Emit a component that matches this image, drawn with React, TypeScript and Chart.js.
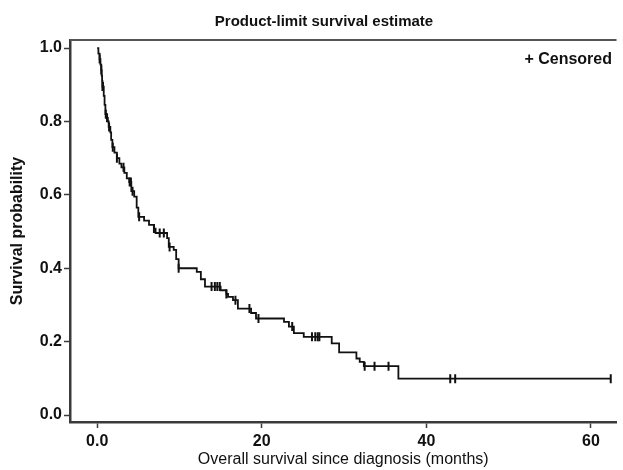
import React, { useEffect, useRef } from "react";
import { Chart, registerables } from "chart.js";

Chart.register(...registerables);

// Kaplan-Meier step function: time (months) and survival after the drop
const eventTimes = [
  0, 0.15, 0.3, 0.4, 0.5, 0.55, 0.6, 0.65, 0.8, 0.9, 1.0, 1.1, 1.3, 1.4, 1.6, 1.7,
  1.85, 2.1, 2.4, 2.7, 2.95, 3.3, 3.6, 3.9, 4.15, 4.5, 4.8, 5.0, 5.7, 6.3, 6.9, 7.1,
  8.5, 8.7, 9.3, 9.6, 9.9, 12.1, 12.6, 13.1, 15.0, 15.7, 15.9, 16.5, 17.1, 18.7,
  19.3, 22.7, 23.3, 23.9, 25.1, 28.5, 29.4, 31.5, 31.9, 32.4, 36.6,
];
const survival = [
  1.0, 0.985, 0.97, 0.955, 0.94, 0.925, 0.91, 0.895, 0.87, 0.845, 0.82, 0.81, 0.8,
  0.785, 0.77, 0.75, 0.73, 0.715, 0.7, 0.685, 0.675, 0.66, 0.645, 0.635, 0.61,
  0.595, 0.565, 0.54, 0.53, 0.518, 0.508, 0.496, 0.482, 0.458, 0.45, 0.425, 0.4,
  0.39, 0.37, 0.35, 0.34, 0.33, 0.322, 0.313, 0.29, 0.278, 0.263, 0.254, 0.241,
  0.223, 0.213, 0.195, 0.171, 0.154, 0.145, 0.133, 0.099,
];
const censorTimes = [
  0.3, 0.5, 0.65, 0.7, 1.05, 1.2, 1.45, 1.9, 2.4, 3.2, 3.95, 4.1, 4.3, 5.1, 6.9,
  7.6, 8.1, 8.8, 9.9, 13.9, 14.3, 14.6, 14.9, 15.7, 16.8, 18.5, 19.6, 23.7, 26.1,
  26.5, 26.8, 27.0, 32.5, 33.7, 35.4, 42.9, 43.5, 62.4,
];
const lastFollowUp = 62.4;
const xTicks = [0, 20, 40, 60];
const yTicks = [0, 0.2, 0.4, 0.6, 0.8, 1.0];

const titleText = "Product-limit survival estimate";
const legendText = "+ Censored";
const xTitle = "Overall survival since diagnosis (months)";
const yTitle = "Survival probability";

const FONT = "'Liberation Sans', Arial, sans-serif";
const AXIS_COLOR = "#3a3a3a";

function survivalAt(t: number): number {
  let s = 1;
  for (let i = 0; i < eventTimes.length; i++) {
    if (eventTimes[i] <= t) s = survival[i];
  }
  return s;
}

const decorPlugin = {
  id: "decor",
  afterDraw(chart: any) {
    const { ctx, chartArea } = chart;
    ctx.save();
    ctx.strokeStyle = "#555";
    ctx.lineWidth = 2;
    ctx.beginPath();
    ctx.moveTo(chartArea.left, chartArea.top);
    ctx.lineTo(chartArea.right, chartArea.top);
    ctx.stroke();
    ctx.fillStyle = "#111";
    ctx.font = `bold 15px ${FONT}`;
    ctx.textAlign = "center";
    ctx.textBaseline = "middle";
    ctx.fillText(titleText, 324, 22);
    ctx.font = `bold 16px ${FONT}`;
    ctx.textAlign = "right";
    ctx.fillText(legendText, 612, 60);
    ctx.restore();
  },
};

export default function App() {
  const canvasRef = useRef<HTMLCanvasElement | null>(null);

  useEffect(() => {
    if (!canvasRef.current) return;
    const curve = eventTimes.map((t, i) => ({ x: t, y: survival[i] }));
    curve.push({ x: lastFollowUp, y: survival[survival.length - 1] });
    const censored = censorTimes.map((t) => ({ x: t, y: survivalAt(t) }));

    const chart = new Chart(canvasRef.current, {
      type: "scatter",
      data: {
        datasets: [
          {
            label: "KM",
            data: curve,
            showLine: true,
            stepped: "before",
            borderColor: "#111",
            borderWidth: 1.8,
            pointRadius: 0,
            fill: false,
          } as any,
          {
            label: "Censored",
            data: censored,
            showLine: false,
            pointStyle: "line",
            rotation: 90,
            pointRadius: 4.5,
            borderColor: "#111",
            backgroundColor: "#111",
            borderWidth: 2,
          } as any,
        ],
      },
      options: {
        responsive: false,
        animation: false,
        devicePixelRatio: 1,
        layout: { padding: { left: 0, right: 0, top: 40, bottom: 0 } },
        plugins: {
          legend: { display: false },
          title: { display: false },
          tooltip: { enabled: false },
        },
        scales: {
          x: {
            type: "linear",
            min: -3.3,
            max: 63.1,
            afterBuildTicks: (scale: any) => {
              scale.ticks = xTicks.map((v) => ({ value: v }));
            },
            afterFit: (scale: any) => {
              scale.height = 48;
            },
            grid: {
              display: true,
              drawOnChartArea: false,
              drawTicks: true,
              tickLength: 6,
              tickColor: AXIS_COLOR,
              tickWidth: 1.5,
            },
            border: { display: true, color: AXIS_COLOR, width: 2.5 },
            ticks: {
              color: "#111",
              padding: 4,
              maxRotation: 0,
              autoSkip: false,
              font: { family: FONT, size: 16, weight: "bold" },
              callback: (v: any) => (Number(v) === 0 ? "0.0" : String(v)),
            },
            title: {
              display: true,
              text: xTitle,
              color: "#111",
              font: { family: FONT, size: 16, weight: "normal" },
              padding: { top: 0, bottom: 1 },
            },
          },
          y: {
            type: "linear",
            min: -0.019,
            max: 1.022,
            afterBuildTicks: (scale: any) => {
              scale.ticks = yTicks.map((v) => ({ value: v }));
            },
            afterFit: (scale: any) => {
              scale.width = 70;
            },
            grid: {
              display: true,
              drawOnChartArea: false,
              drawTicks: true,
              tickLength: 6,
              tickColor: AXIS_COLOR,
              tickWidth: 1.5,
            },
            border: { display: true, color: AXIS_COLOR, width: 2.5 },
            ticks: {
              color: "#111",
              padding: 2,
              autoSkip: false,
              font: { family: FONT, size: 16, weight: "bold" },
              callback: (v: any) => Number(v).toFixed(1),
            },
            title: {
              display: true,
              text: yTitle,
              color: "#111",
              font: { family: FONT, size: 16, weight: "bold" },
              padding: { top: 8, bottom: 0 },
            },
          },
        },
      } as any,
      plugins: [decorPlugin],
    });
    return () => chart.destroy();
  }, []);

  return (
    <div style={{ position: "absolute", left: 0, top: 0, width: 623, height: 470, background: "#fff" }}>
      <canvas ref={canvasRef} width={623} height={470} style={{ width: 623, height: 470 }} />
    </div>
  );
}
